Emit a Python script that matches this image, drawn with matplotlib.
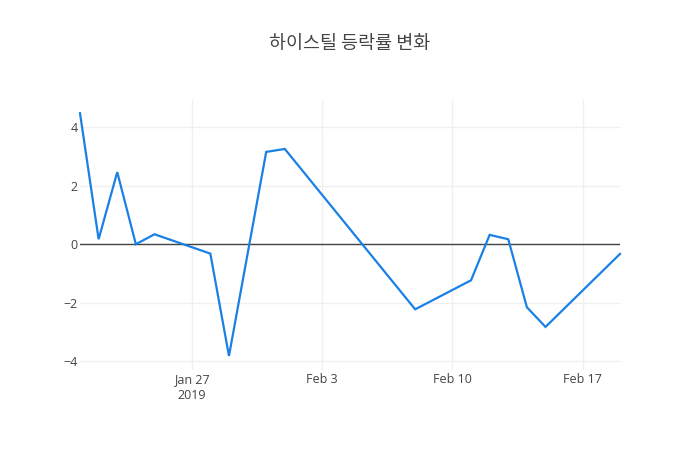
import matplotlib
matplotlib.use("Agg")
import matplotlib.pyplot as plt
import matplotlib.dates as mdates
import numpy as np
import pandas as pd

plt.rcParams['font.family'] = ['Open Sans', 'Noto Sans CJK KR', 'DejaVu Sans']

dates = ["2019-01-21", "2019-01-22", "2019-01-23", "2019-01-24", "2019-01-25",
         "2019-01-28", "2019-01-29", "2019-01-31", "2019-02-01", "2019-02-08",
         "2019-02-11", "2019-02-12", "2019-02-13", "2019-02-14", "2019-02-15",
         "2019-02-19"]
changes = [4.47, 0.17, 2.46, 0.0, 0.34,
           -0.32, -3.81, 3.15, 3.25, -2.22,
           -1.23, 0.32, 0.17, -2.15, -2.82,
           -0.33]
title = "하이스틸 등락률 변화"
xtick_dates = ["2019-01-27", "2019-02-03", "2019-02-10", "2019-02-17"]
xtick_labels = ["Jan 27\n2019", "Feb 3", "Feb 10", "Feb 17"]
ytick_vals = [-4, -2, 0, 2, 4]

x = pd.to_datetime(dates)

fig = plt.figure(figsize=(7, 4.5), dpi=100)
ax = fig.add_axes([80/700, 80/450, 540/700, 270/450])

ax.plot(x, changes, color='#1a80e6', linewidth=1.6, solid_joinstyle='miter', zorder=3, clip_on=False)

ax.set_xlim(x[0], x[-1])
ax.set_ylim(-4.29, 4.92)

ax.set_xticks(pd.to_datetime(xtick_dates))
ax.set_xticklabels(xtick_labels)
ax.set_yticks(ytick_vals)
ax.set_yticklabels([str(v).replace('-', '\u2212') for v in ytick_vals])

ax.grid(True, color='#f0f0f0', linewidth=1)
ax.set_axisbelow(True)
ax.axhline(0, color='#444444', linewidth=1, zorder=2)

for s in ax.spines.values():
    s.set_visible(False)
ax.tick_params(axis='both', length=0, labelsize=9, labelcolor='#444444')
ax.tick_params(axis='x', pad=2)
ax.tick_params(axis='y', pad=1.5)
for lbl in ax.get_xticklabels():
    lbl.set_linespacing(1.35)

fig.text(350/700, 1 - 44/450, title, ha='center', va='center', fontsize=13.3,
         color='#444444', family=['Noto Sans CJK KR', 'DejaVu Sans'])

fig.savefig('out.png', dpi=100, facecolor='white')
